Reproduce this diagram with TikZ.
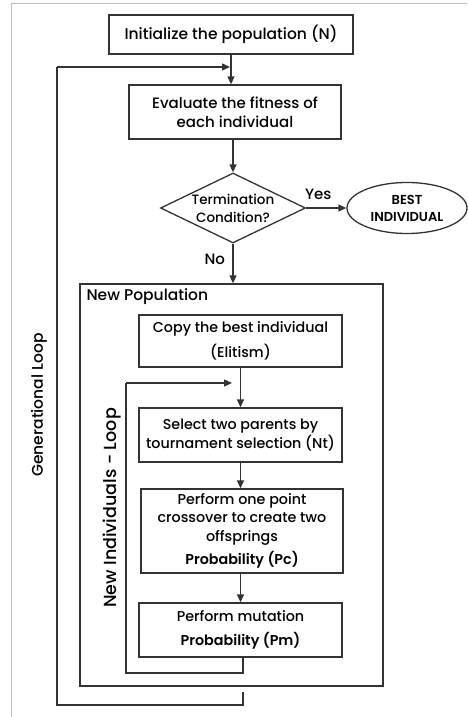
\documentclass[tikz,border=0pt]{standalone}
\usepackage{fontspec}
\setmainfont{Poppins}[UprightFont=* Medium,BoldFont=* SemiBold]
\usetikzlibrary{shapes.geometric,arrows.meta}

\tikzset{
  flowbox/.style={draw=black!80,line width=1.3pt,align=center,inner sep=2pt,font=\fontsize{14.3}{18.5}\selectfont},
  flowline/.style={draw=black!80,line width=1.3pt},
  flowarrow/.style={flowline,-{Triangle[length=8pt,width=7pt]}},
  sidetext/.style={rotate=90,font=\fontsize{17.5}{20}\selectfont}
}

\begin{document}
\begin{tikzpicture}[x=1pt,y=-1pt]
\useasboundingbox (0,0) rectangle (467,717);
\draw[black!25,line width=0.8pt] (11,717) -- (11,3) -- (467,3);

\node[flowbox,minimum width=244pt,minimum height=39pt,font=\fontsize{15.5}{19}\selectfont] (init) at (231,34.5) {Initialize the population (N)};
\node[flowbox,minimum width=212pt,minimum height=54pt,font=\fontsize{15}{19}\selectfont] (eval) at (235,112) {Evaluate the fitness of\\each individual};
\node[flowbox,diamond,aspect=2.05,inner sep=0pt,minimum width=145pt,minimum height=70pt,font=\fontsize{13.5}{18}\selectfont] (cond) at (233,208) {Termination\\Condition?};
\node[flowbox,ellipse,inner sep=0pt,minimum width=120pt,minimum height=51pt,font=\fontsize{13}{17}\selectfont\bfseries] (best) at (407,208) {BEST\\INDIVIDUAL};

\node[flowbox,minimum width=303pt,minimum height=402pt] (newpop) at (231.5,485) {};
\node[anchor=west,font=\fontsize{15.5}{17}\selectfont] (newlbl) at (83,297) {New Population};

\node[flowbox,minimum width=203pt,minimum height=52pt] (copy) at (240.5,341) {Copy the best individual\\[6pt](Elitism)};
\node[flowbox,minimum width=203pt,minimum height=54pt] (select) at (240.5,435) {Select two parents by\\tournament selection (Nt)};
\node[flowbox,minimum width=202pt,minimum height=84pt] (cross) at (242,531) {Perform one point\\crossover to create two\\offsprings\\[5pt]\textbf{Probability (Pc)}};
\node[flowbox,minimum width=203pt,minimum height=54pt] (mut) at (240.5,630) {Perform mutation\\[6pt]\textbf{Probability (Pm)}};

\node[sidetext,font=\fontsize{15.5}{18}\selectfont] (genlbl) at (39,405) {Generational Loop};
\node[sidetext] (indlbl) at (112,508) {New Individuals - Loop};

% main flow
\draw[flowarrow] (init.south) -- (init.south |- eval.north);
\draw[flowarrow] (cond.north |- eval.south) -- (cond.north);
\draw[flowarrow] (cond.east) -- (best.west) node[pos=0.3,above=4pt,font=\fontsize{15}{17}\selectfont] (yes) {Yes};
\draw[flowarrow] (cond.south) -- (cond.south |- newpop.north) node[pos=0.4,left=4pt,font=\fontsize{15}{17}\selectfont] (no) {No};
\draw[flowarrow] (copy.south) -- (copy.south |- select.north);
\draw[flowarrow] (select.south) -- (select.south |- cross.north);
\draw[flowarrow] (mut.north |- cross.south) -- (mut.north);

% loops
\coordinate (indtip) at (232,383);
\coordinate (gentip) at (230,67);
\draw[flowline] (243,657) -- (243,673) -- (126,673) -- (126,383);
\draw[flowarrow] (126,383) -- (indtip);
\draw[flowline] (243,692) -- (243,705) -- (57,705) -- (57,67);
\draw[flowarrow] (57,67) -- (gentip);
\end{tikzpicture}
\end{document}
